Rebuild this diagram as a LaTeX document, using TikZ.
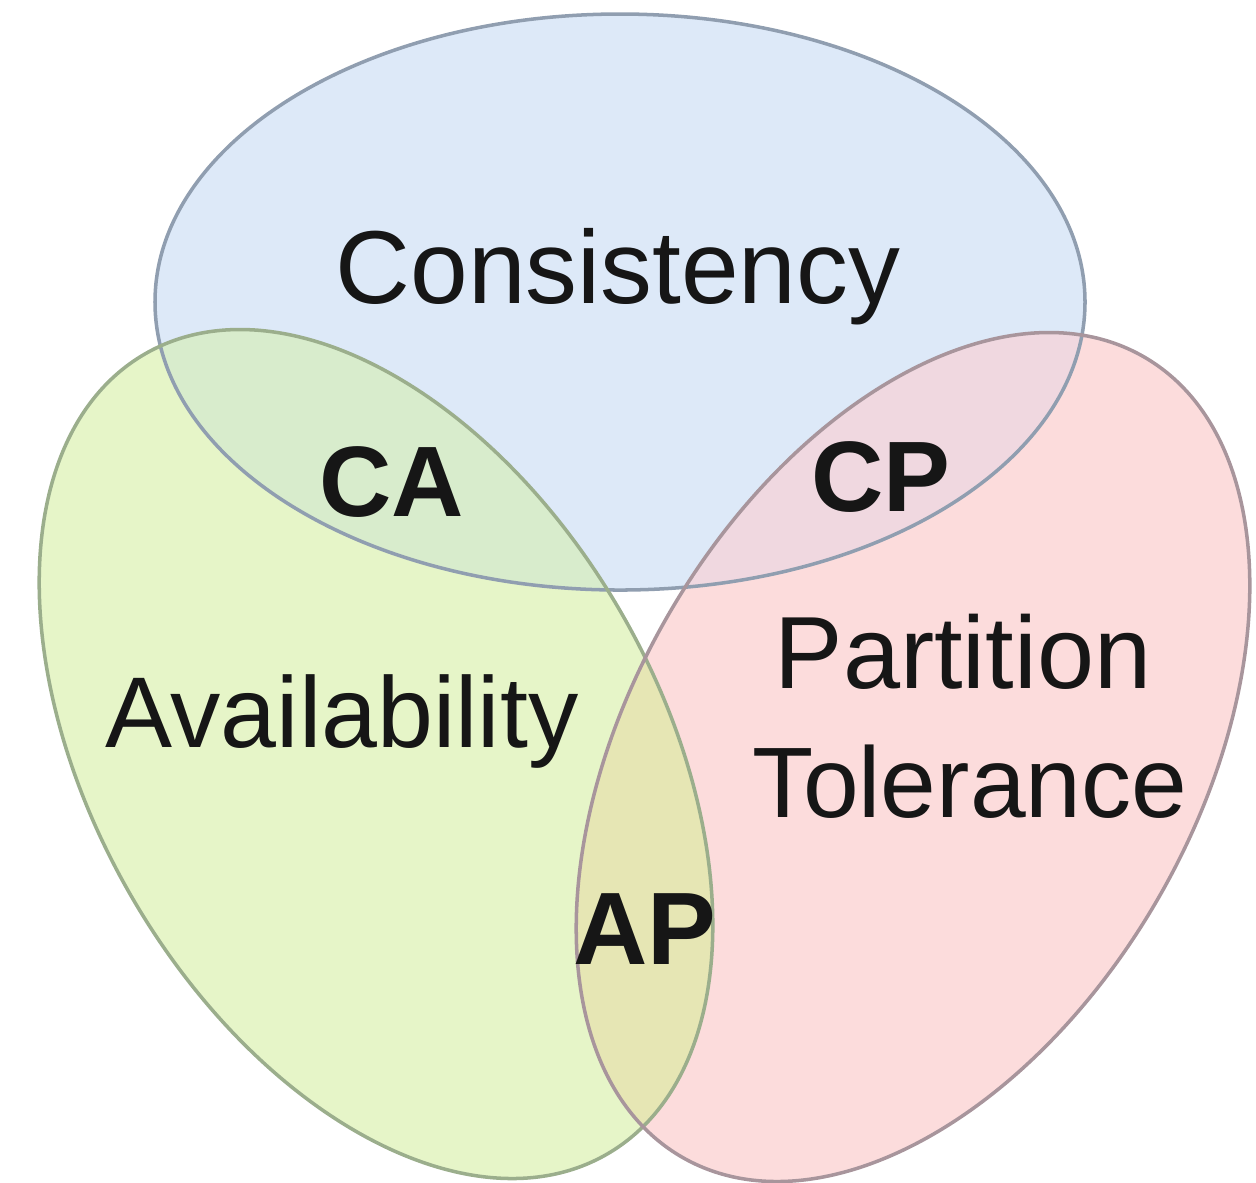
\documentclass[tikz,border=0pt]{standalone}
\usepackage{fontspec}
\setmainfont{Liberation Sans}
\usepackage{tikz}
\usetikzlibrary{
  calc
  , positioning
}

\definecolor{consfill}{HTML}{DDE9F8}
\definecolor{availfill}{HTML}{E6F5C8}
\definecolor{partfill}{HTML}{FCDCDC}
\definecolor{cafill}{HTML}{D8ECCC}
\definecolor{cpfill}{HTML}{F0D8E0}
\definecolor{apfill}{HTML}{E6E6B4}
\definecolor{consline}{HTML}{909EB0}
\definecolor{availline}{HTML}{9BAE8C}
\definecolor{partline}{HTML}{A8959C}
\definecolor{ink}{HTML}{161616}

\begin{document}
\begin{tikzpicture}[
    ring/.style={line width=1pt},
    label/.style={anchor=base, inner sep=0pt, text=ink, font=\fontsize{28}{34}\selectfont},
    pair/.style={label, font=\bfseries\fontsize{28.5}{34}\selectfont},
    availtilt/.style={rotate around={-60:(availc)}},
    parttilt/.style={rotate around={60:(partc)}},
  ]
  \useasboundingbox (0,0) rectangle (12.56,-11.82);

  \coordinate (consc) at (6.20,-3.02);
  \coordinate (availc) at (3.76,-7.54);
  \coordinate (partc) at (9.13,-7.57);

  % plain fills
  \fill[consfill] (consc) ellipse [x radius=4.65, y radius=2.88];
  \fill[availfill, availtilt] (availc) ellipse [x radius=4.62, y radius=2.83];
  \fill[partfill, parttilt] (partc) ellipse [x radius=4.62, y radius=2.83];

  % overlaps
  \begin{scope}
    \clip (consc) ellipse [x radius=4.65, y radius=2.88];
    \fill[cafill, availtilt] (availc) ellipse [x radius=4.62, y radius=2.83];
    \fill[cpfill, parttilt] (partc) ellipse [x radius=4.62, y radius=2.83];
  \end{scope}
  \begin{scope}
    \clip[availtilt] (availc) ellipse [x radius=4.62, y radius=2.83];
    \fill[apfill, parttilt] (partc) ellipse [x radius=4.62, y radius=2.83];
  \end{scope}

  % outlines
  \draw[ring, consline] (consc) ellipse [x radius=4.65, y radius=2.88];
  \draw[ring, availline, availtilt] (availc) ellipse [x radius=4.62, y radius=2.83];
  \draw[ring, partline, parttilt] (partc) ellipse [x radius=4.62, y radius=2.83];

  \node[label, font=\fontsize{29.5}{34}\selectfont] (cons) at (6.18,-3.03) {Consistency};
  \node[label, font=\fontsize{28.6}{34}\selectfont] (avail) at (3.42,-7.47) {Availability};
  \node[label, font=\fontsize{29.2}{34}\selectfont] (part) at (9.63,-6.88) {Partition};
  \node[label, font=\fontsize{28.5}{34}\selectfont] (tol) at (9.70,-8.17) {Tolerance};

  \node[pair] (ca) at (3.92,-5.16) {CA};
  \node[pair] (cp) at (8.81,-5.11) {CP};
  \node[pair, font=\bfseries\fontsize{29.3}{34}\selectfont] (ap) at (6.45,-9.64) {AP};
\end{tikzpicture}
\end{document}
